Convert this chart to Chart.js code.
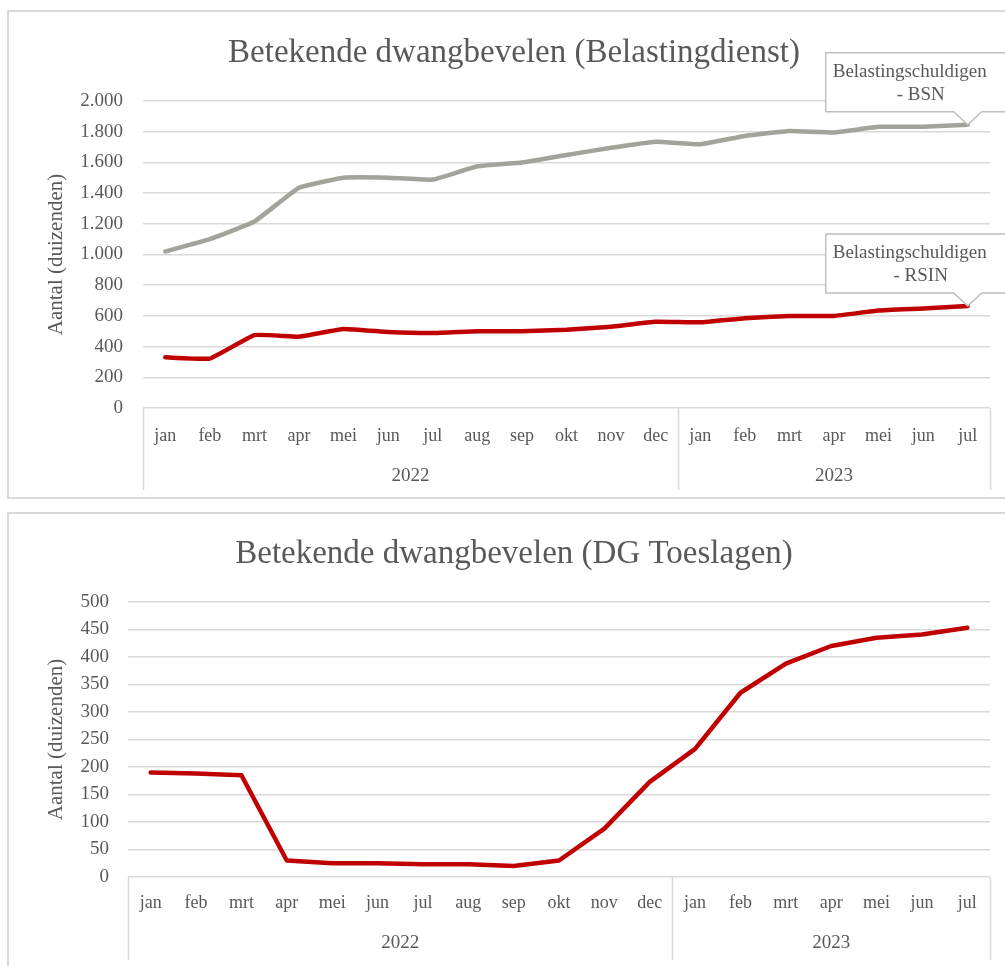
<!DOCTYPE html>
<html>
<head>
<meta charset="utf-8">
<script src="https://cdn.jsdelivr.net/npm/chart.js@4.4.0/dist/chart.umd.js"></script>
<style>
    body { margin: 0; background: #fff; width: 1005px; height: 966px; overflow: hidden; position: relative; }
    .frame { position: absolute; left: 7px; border: 2px solid #d9d9d9; background: #fff; }
    #frameTop { top: 10px; width: 1010px; height: 485px; }
    #frameBottom { top: 512px; width: 1010px; height: 460px; }
</style>
</head>
<body>
<div class="frame" id="frameTop"><canvas id="chartTop"></canvas></div>
<div class="frame" id="frameBottom"><canvas id="chartBottom"></canvas></div>
<script>
// Maanden (jan 2022 t/m jul 2023)
const months = ['jan', 'feb', 'mrt', 'apr', 'mei', 'jun', 'jul', 'aug', 'sep', 'okt', 'nov', 'dec',
                'jan', 'feb', 'mrt', 'apr', 'mei', 'jun', 'jul'];
const yearLabels = ['2022', '2023'];
const yearMonthCounts = [12, 7];

// Belastingdienst (duizenden)
const bsnValues = [1020, 1100, 1215, 1435, 1500, 1500, 1488, 1575, 1600, 1648, 1695, 1735,
                   1718, 1772, 1805, 1795, 1832, 1832, 1845];
const rsinValues = [330, 322, 475, 465, 515, 495, 488, 500, 500, 510, 530, 562,
                    558, 585, 600, 600, 635, 648, 665];

// DG Toeslagen (duizenden)
const toeslagenValues = [190, 188, 185, 30, 25, 25, 23, 23, 20, 30, 88, 173,
                         233, 335, 388, 420, 435, 441, 453];

const FONT = "'Liberation Serif', 'DejaVu Serif', serif";
const TEXT = '#595959';
const GRID = '#d9d9d9';

function fmtNL(v) {
    return v.toString().replace(/\B(?=(\d{3})+(?!\d))/g, '.');
}

// Titel, maand/jaar-kader en labels tekenen
const decorPlugin = {
    id: 'decor',
    afterDraw(chart, args, opts) {
        const { ctx, chartArea, scales } = chart;
        const x = scales.x;
        ctx.save();
        // titel
        ctx.fillStyle = TEXT;
        ctx.font = `${opts.titleSize}px ${FONT}`;
        ctx.textAlign = 'center';
        ctx.textBaseline = 'middle';
        ctx.fillText(opts.title, chart.width / 2, opts.titleY);

        // kader onder de x-as
        ctx.strokeStyle = GRID;
        ctx.lineWidth = 1.5;
        const bottom = chartArea.bottom + opts.boxDepth;
        let start = 0;
        const edges = [chartArea.left];
        yearLabels.forEach((y, i) => {
            const end = start + yearMonthCounts[i] - 1;
            edges.push(i === yearLabels.length - 1 ? chartArea.right : x.getPixelForValue(end + 0.5));
            const cx = (x.getPixelForValue(start) + x.getPixelForValue(end)) / 2;
            ctx.font = `19px ${FONT}`;
            ctx.fillText(y, cx, chartArea.bottom + opts.yearOffset);
            start = end + 1;
        });
        edges.forEach(px => {
            ctx.beginPath();
            ctx.moveTo(Math.round(px) + 0.5, chartArea.bottom);
            ctx.lineTo(Math.round(px) + 0.5, bottom);
            ctx.stroke();
        });

        // callouts
        (opts.callouts || []).forEach(c => {
            const meta = chart.getDatasetMeta(c.dataset);
            const pt = meta.data[meta.data.length - 1];
            const px = pt.x, py = pt.y;
            const left = px - 142, right = px + 52, top = py - 72, bot = py - 13;
            ctx.beginPath();
            ctx.moveTo(left, top);
            ctx.lineTo(right, top);
            ctx.lineTo(right, bot);
            ctx.lineTo(px + 14, bot);
            ctx.lineTo(px, py);
            ctx.lineTo(px - 14, bot);
            ctx.lineTo(left, bot);
            ctx.closePath();
            ctx.fillStyle = '#fff';
            ctx.fill();
            ctx.strokeStyle = '#bfbfbf';
            ctx.lineWidth = 1.5;
            ctx.stroke();
            ctx.fillStyle = TEXT;
            ctx.font = `19px ${FONT}`;
            ctx.textAlign = 'left';
            ctx.fillText(c.line1, left + 7, py - 53);
            ctx.textAlign = 'center';
            ctx.fillText(c.line2, (left + right) / 2 - 2, py - 30);
        });
        ctx.restore();
    }
};

function makeChart(canvasId, datasets, yMax, yStep, yWidth, cfg) {
    return new Chart(document.getElementById(canvasId), {
        type: 'line',
        data: { labels: months, datasets: datasets },
        options: {
            responsive: true,
            maintainAspectRatio: false,
            animation: false,
            layout: { padding: { top: cfg.padTop, right: 29, left: 0, bottom: 0 } },
            elements: { point: { radius: 0 }, line: { borderWidth: 4.5, tension: cfg.tension, borderCapStyle: 'round', borderJoinStyle: 'round' } },
            plugins: {
                legend: { display: false },
                tooltip: { enabled: false },
                decor: cfg.decor
            },
            scales: {
                x: {
                    offset: true,
                    grid: { display: false, drawTicks: false },
                    border: { display: false },
                    ticks: { color: TEXT, font: { family: FONT, size: 18 }, padding: cfg.tickPad, autoSkip: false, maxRotation: 0 },
                    afterFit(scale) { scale.height = cfg.xHeight; }
                },
                y: {
                    min: 0,
                    max: yMax,
                    ticks: { stepSize: yStep, color: TEXT, font: { family: FONT, size: 19 }, padding: cfg.yPad, callback: v => fmtNL(v) },
                    grid: { color: GRID, lineWidth: 1.5, drawTicks: false },
                    border: { display: false },
                    title: { display: true, text: 'Aantal (duizenden)', color: TEXT, font: { family: FONT, size: 21 }, padding: { top: 35, bottom: 0 } },
                    afterFit(scale) { scale.width = yWidth; }
                }
            }
        },
        plugins: [decorPlugin]
    });
}

makeChart('chartTop', [
    { label: 'Belastingschuldigen - BSN', data: bsnValues, borderColor: '#a3a39c' },
    { label: 'Belastingschuldigen - RSIN', data: rsinValues, borderColor: '#c00000' }
], 2000, 200, 134, {
    padTop: 89, xHeight: 89, tickPad: 17, yPad: 20, tension: 0.1,
    decor: {
        title: 'Betekende dwangbevelen (Belastingdienst)', titleSize: 33, titleY: 41,
        boxDepth: 82, yearOffset: 68,
        callouts: [
            { dataset: 0, line1: 'Belastingschuldigen', line2: '- BSN' },
            { dataset: 1, line1: 'Belastingschuldigen', line2: '- RSIN' }
        ]
    }
});

makeChart('chartBottom', [
    { label: 'DG Toeslagen', data: toeslagenValues, borderColor: '#c00000' }
], 500, 50, 119, {
    padTop: 88, xHeight: 97, tickPad: 15, yPad: 19, tension: 0,
    decor: {
        title: 'Betekende dwangbevelen (DG Toeslagen)', titleSize: 33, titleY: 40,
        boxDepth: 83, yearOffset: 66
    }
});
</script>
</body>
</html>
